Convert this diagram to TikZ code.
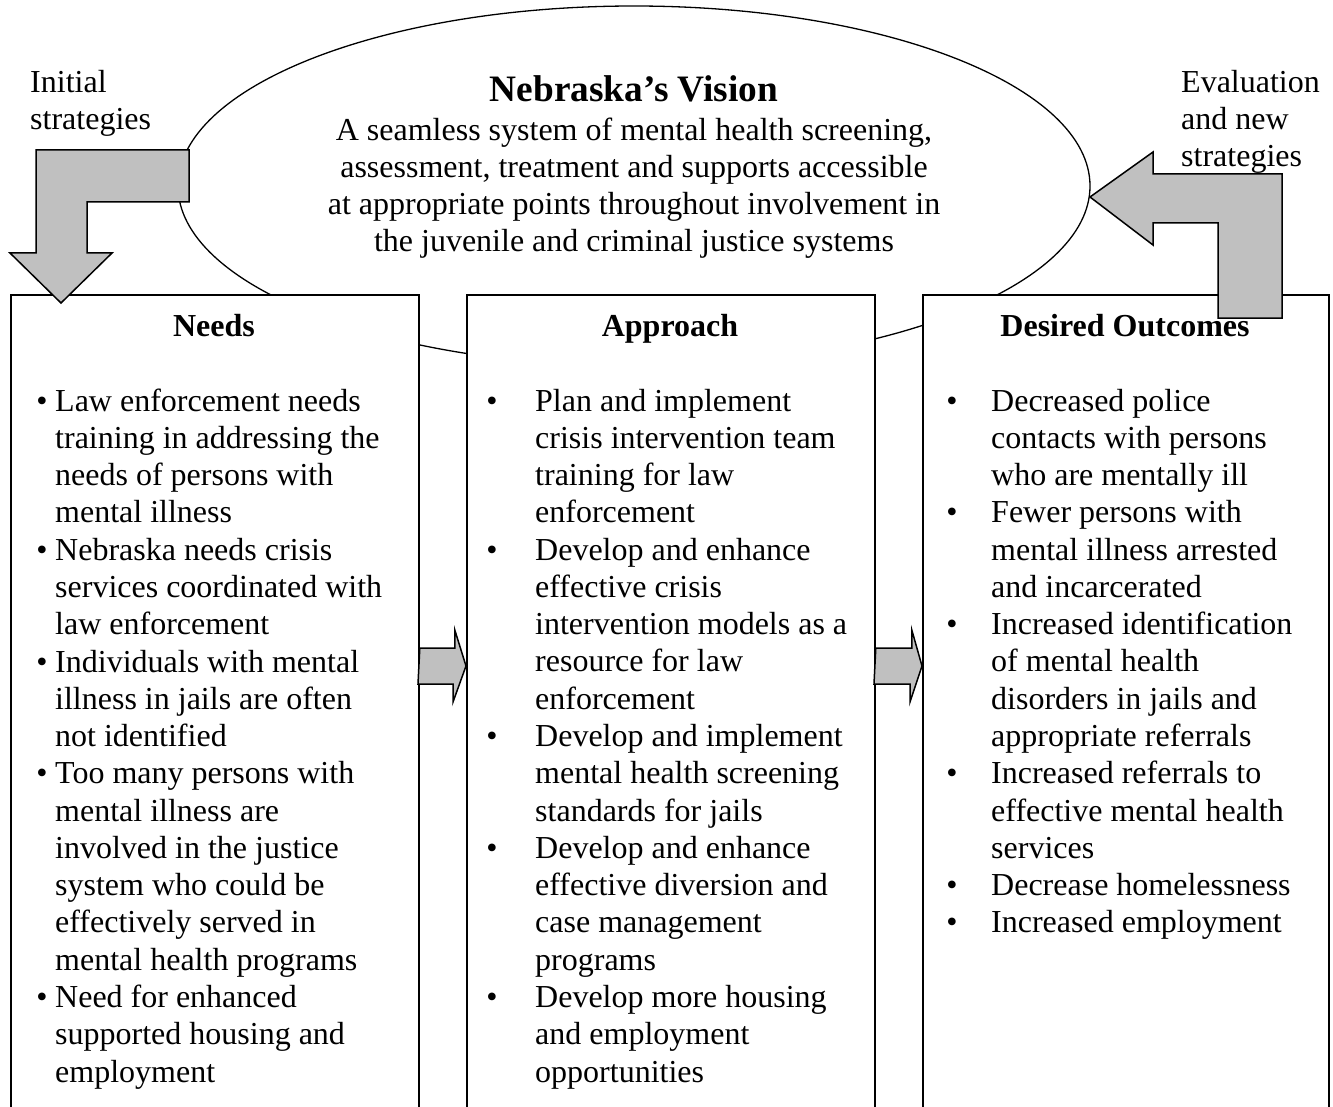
\documentclass[tikz,border=0pt]{standalone}
\usepackage{fontspec}
\setmainfont{Liberation Serif}
\usetikzlibrary{shapes.geometric}
\definecolor{arrowgray}{HTML}{C0C0C0}
% stacked lines whose baseline is the baseline of the first line
\newcommand\leftlines[1]{\vtop{\halign{##\hfil\cr#1\crcr}}}
\newcommand\centerlines[1]{\vtop{\halign{\hfil##\hfil\cr#1\crcr}}}
\begin{document}
\begin{tikzpicture}[x=1pt,y=-1pt,
  panel/.style={draw, fill=white, line width=1.8pt, anchor=north west,
    minimum height=860pt, inner sep=0pt},
  blockarrow/.style={draw, fill=arrowgray, line width=1.5pt, line join=miter},
  body/.style={font=\fontsize{32}{37.28}\selectfont, inner sep=0pt, anchor=base west},
  bul/.style={font=\fontsize{32}{37.28}\selectfont, inner sep=0pt, anchor=base},
  head/.style={font=\fontsize{32}{37.28}\selectfont\bfseries, inner sep=0pt, anchor=base},
  side/.style={font=\fontsize{32}{37}\selectfont, inner sep=0pt, anchor=base west}]
\useasboundingbox (0,0) rectangle (1333,1107);
\fill[white] (0,0) rectangle (1333,1107);

% vision ellipse behind the three panels
\node[ellipse, draw, line width=1.3pt, minimum width=912pt, minimum height=360pt,
  inner sep=0pt] (vision) at (634,186) {};

% the three panels, open at the bottom of the page
\node[panel, minimum width=408pt] (needs) at (10,294) {};
\node[panel, minimum width=408pt] (approach) at (466,294) {};
\node[panel, minimum width=406pt] (outcomes) at (922,294) {};

% arrows between the panels
\draw[blockarrow] ([yshift=-354pt]needs.north east) -- ++(35,0) -- ++(0,-18)
  -- ([yshift=-372pt]approach.north west) -- ++(-13,36) -- ++(0,-18) -- ++(-35,0) -- cycle;
\draw[blockarrow] ([yshift=-354pt]approach.north east) -- ++(36,0) -- ++(0,-18)
  -- ([yshift=-372pt]outcomes.north west) -- ++(-12,36) -- ++(0,-18) -- ++(-36,0) -- cycle;

% initial strategies: bent arrow down into the needs panel
\coordinate (needsin) at (61,303);
\draw[blockarrow] (189,150) -- (36,150) -- (36,253) -- (10,253) -- (needsin)
  -- (112,253) -- (87,253) -- (87,202) -- (189,202) -- cycle;

% evaluation: bent arrow from the outcomes panel back to the vision
\coordinate (visionin) at (1090,197);
\draw[blockarrow] (visionin) -- (1153,152) -- (1153,174) -- (1282,174) -- (1282,318)
  -- (1218,318) -- (1218,223) -- (1153,223) -- (1153,245) -- cycle;

% side labels
\node[side] (initlbl) at (30,93) {\leftlines{Initial\cr strategies}};
\node[side] (evallbl) at (1181,93) {\leftlines{Evaluation\cr and new\cr strategies}};

% vision text
\node[font=\fontsize{37.3}{40}\selectfont\bfseries, inner sep=0pt, anchor=base]
  (visiontitle) at (634,102) {Nebraska’s Vision};
\node[font=\fontsize{32}{36.7}\selectfont, inner sep=0pt, anchor=base]
  (visiontext) at (634,141) {\centerlines{A seamless system of mental health screening,\cr
  assessment, treatment and supports accessible\cr
  at appropriate points throughout involvement in\cr
  the juvenile and criminal justice systems}};

% panel headings
\node[head] (needsT) at (214,336) {Needs};
\node[head] (approachT) at (670,336) {Approach};
\node[head] (outcomesT) at (1125,336) {Desired Outcomes};

% needs list
\node[bul] (nb1) at (42,411) {\textbullet};
\node[body] (n1) at (55,411) {\leftlines{Law enforcement needs\cr training in addressing the\cr needs of persons with\cr mental illness}};
\node[bul] (nb2) at (42,560.1) {\textbullet};
\node[body] (n2) at (55,560.1) {\leftlines{Nebraska needs crisis\cr services coordinated with\cr law enforcement}};
\node[bul] (nb3) at (42,672) {\textbullet};
\node[body] (n3) at (55,672) {\leftlines{Individuals with mental\cr illness in jails are often\cr not identified}};
\node[bul] (nb4) at (42,783.8) {\textbullet};
\node[body] (n4) at (55,783.8) {\leftlines{Too many persons with\cr mental illness are\cr involved in the justice\cr system who could be\cr effectively served in\cr mental health programs}};
\node[bul] (nb5) at (42,1007.5) {\textbullet};
\node[body] (n5) at (55,1007.5) {\leftlines{Need for enhanced\cr supported housing and\cr employment}};

% approach list
\node[bul] (ab1) at (492,411) {\textbullet};
\node[body] (a1) at (535,411) {\leftlines{Plan and implement\cr crisis intervention team\cr training for law\cr enforcement}};
\node[bul] (ab2) at (492,560.1) {\textbullet};
\node[body] (a2) at (535,560.1) {\leftlines{Develop and enhance\cr effective crisis\cr intervention models as a\cr resource for law\cr enforcement}};
\node[bul] (ab3) at (492,746.5) {\textbullet};
\node[body] (a3) at (535,746.5) {\leftlines{Develop and implement\cr mental health screening\cr standards for jails}};
\node[bul] (ab4) at (492,858.4) {\textbullet};
\node[body] (a4) at (535,858.4) {\leftlines{Develop and enhance\cr effective diversion and\cr case management\cr programs}};
\node[bul] (ab5) at (492,1007.5) {\textbullet};
\node[body] (a5) at (535,1007.5) {\leftlines{Develop more housing\cr and employment\cr opportunities}};

% outcomes list
\node[bul] (ob1) at (952,411) {\textbullet};
\node[body] (o1) at (991,411) {\leftlines{Decreased police\cr contacts with persons\cr who are mentally ill}};
\node[bul] (ob2) at (952,522.8) {\textbullet};
\node[body] (o2) at (991,522.8) {\leftlines{Fewer persons with\cr mental illness arrested\cr and incarcerated}};
\node[bul] (ob3) at (952,634.7) {\textbullet};
\node[body] (o3) at (991,634.7) {\leftlines{Increased identification\cr of mental health\cr disorders in jails and\cr appropriate referrals}};
\node[bul] (ob4) at (952,783.8) {\textbullet};
\node[body] (o4) at (991,783.8) {\leftlines{Increased referrals to\cr effective mental health\cr services}};
\node[bul] (ob5) at (952,895.6) {\textbullet};
\node[body] (o5) at (991,895.6) {Decrease homelessness};
\node[bul] (ob6) at (952,932.9) {\textbullet};
\node[body] (o6) at (991,932.9) {Increased employment};
\end{tikzpicture}
\end{document}
